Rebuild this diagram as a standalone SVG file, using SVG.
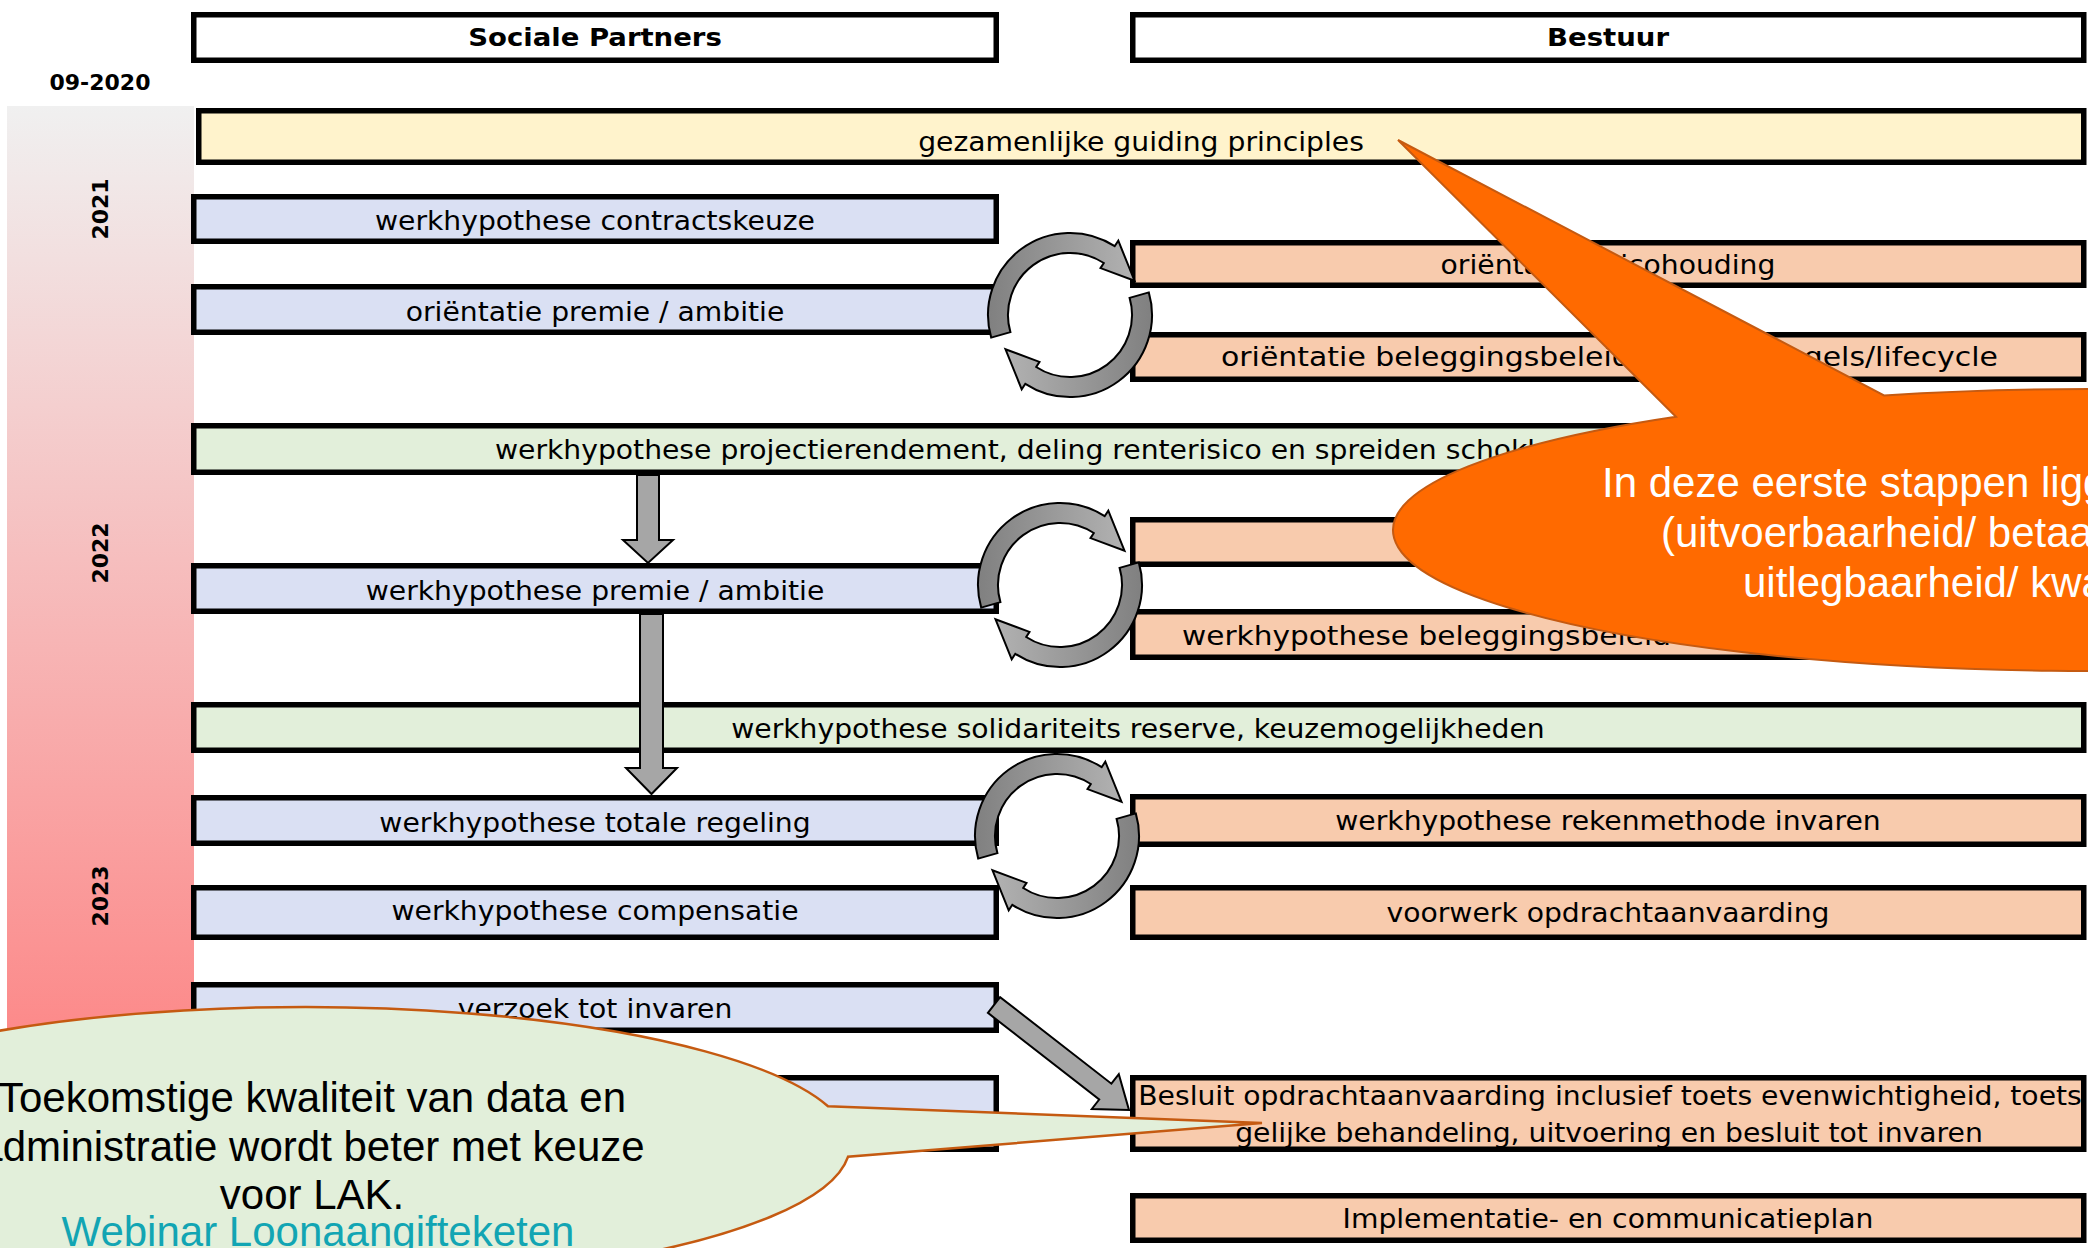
<svg xmlns="http://www.w3.org/2000/svg" xmlns:xlink="http://www.w3.org/1999/xlink" width="2088" height="1248" viewBox="0 0 2088 1248">
<style>
.box{stroke:#000;stroke-width:5.5}
.hd{fill:#fff}
.sp{fill:#dae0f3}
.bs{fill:#f8cbad}
.gr{fill:#e2efda}
.ye{fill:#fff3cc}
.t{font-family:"DejaVu Sans",Verdana,sans-serif;font-size:26.5px;fill:#000;text-anchor:middle;transform-box:fill-box;transform-origin:center;transform:scaleX(1.065)}
.ts{text-anchor:start;transform-origin:left center}
.tl{font-family:"DejaVu Sans",Verdana,sans-serif;font-size:26.5px;fill:#000;text-anchor:start}
.hb{font-family:"DejaVu Sans",Verdana,sans-serif;font-weight:bold;font-size:25.5px;fill:#000;text-anchor:middle;transform-box:fill-box;transform-origin:center;transform:scaleX(1.08)}
.yr{font-family:"DejaVu Sans",Verdana,sans-serif;font-weight:bold;font-size:22px;fill:#000;text-anchor:middle}
.blk{fill:#a6a6a6;stroke:#000;stroke-width:2}
.ct{font-family:"Liberation Sans",Arial,sans-serif;font-size:42px}
</style>
<defs>
<linearGradient id="tl" x1="0" y1="0" x2="0" y2="1">
<stop offset="0" stop-color="#f0f0f0"/>
<stop offset="1" stop-color="#ff7272"/>
</linearGradient>
<linearGradient id="cag" x1="0" y1="0" x2="1" y2="0">
<stop offset="0" stop-color="#808080"/>
<stop offset="1" stop-color="#b2b2b2"/>
</linearGradient>
<path id="ca" d="M-78.8,22.6 A82,82 0 0 1 44.7,-68.8 L48.3,-74.3 L64.5,-34.3 L30.5,-46.9 L33.8,-52 A62,62 0 0 0 -59.6,17.1 Z" fill="url(#cag)" stroke="#000" stroke-width="2"/>
</defs>

<g id="timeline">
<rect x="7" y="106" width="187" height="1142" fill="url(#tl)"/>
<text class="yr" transform="translate(100,209) rotate(-90)" dy="8">2021</text>
<text class="yr" transform="translate(100,553) rotate(-90)" dy="8">2022</text>
<text class="yr" transform="translate(100,896) rotate(-90)" dy="8">2023</text>
</g>
<g id="date-0920"><text class="yr" x="100" y="90" font-size="20">09-2020</text></g>

<g id="hdr-sociale-partners"><rect class="box hd" x="193.75" y="14.75" width="802.5" height="45.5"/><text class="hb" x="595" y="46">Sociale Partners</text></g>
<g id="hdr-bestuur"><rect class="box hd" x="1132.75" y="14.75" width="951" height="45.5"/><text class="hb" x="1608" y="46">Bestuur</text></g>

<g id="guiding"><rect class="box ye" x="198.75" y="110.75" width="1885" height="51.5"/><text class="t" x="1141" y="151" font-size="28px">gezamenlijke guiding principles</text></g>

<g id="sp1"><rect class="box sp" x="193.75" y="196.75" width="802.5" height="44.5"/><text class="t" x="595" y="230">werkhypothese contractskeuze</text></g>
<g id="sp2"><rect class="box sp" x="193.75" y="286.75" width="802.5" height="45.5"/><text class="t" x="595" y="321">oriëntatie premie / ambitie</text></g>
<g id="b1"><rect class="box bs" x="1132.75" y="242.75" width="951" height="42.5"/><text class="t" x="1608" y="274">oriëntatie risicohouding</text></g>
<g id="b2"><rect class="box bs" x="1132.75" y="334.75" width="951" height="44.5"/><text class="tl" x="1221" y="366" textLength="777" lengthAdjust="spacingAndGlyphs">oriëntatie beleggingsbeleid inclusief regels/lifecycle</text></g>

<g id="g1"><rect class="box gr" x="193.75" y="425.75" width="1890" height="46.5"/><text class="t ts" x="495" y="459">werkhypothese projectierendement, deling renterisico en spreiden schokken</text></g>

<g id="b3"><rect class="box bs" x="1132.75" y="519.75" width="951" height="44.5"/></g>
<g id="sp3"><rect class="box sp" x="193.75" y="565.75" width="802.5" height="45.5"/><text class="t" x="595" y="600">werkhypothese premie / ambitie</text></g>
<g id="b4"><rect class="box bs" x="1132.75" y="611.75" width="951" height="45.5"/><text class="tl" x="1182" y="645" textLength="852" lengthAdjust="spacingAndGlyphs">werkhypothese beleggingsbeleid inclusief regels/lifecycle</text></g>

<g id="g2"><rect class="box gr" x="193.75" y="704.75" width="1890" height="45.5"/><text class="t" x="1138" y="738">werkhypothese solidariteits reserve, keuzemogelijkheden</text></g>

<g id="sp4"><rect class="box sp" x="193.75" y="797.75" width="802.5" height="45.5"/><text class="t" x="595" y="832">werkhypothese totale regeling</text></g>
<g id="b5"><rect class="box bs" x="1132.75" y="796.75" width="951" height="47.5"/><text class="t" x="1608" y="830">werkhypothese rekenmethode invaren</text></g>
<g id="sp5"><rect class="box sp" x="193.75" y="887.75" width="802.5" height="49.5"/><text class="t" x="595" y="920">werkhypothese compensatie</text></g>
<g id="b6"><rect class="box bs" x="1132.75" y="887.75" width="951" height="49.5"/><text class="t" x="1608" y="922">voorwerk opdrachtaanvaarding</text></g>
<g id="sp6"><rect class="box sp" x="193.75" y="984.75" width="802.5" height="45.5"/><text class="t" x="595" y="1018">verzoek tot invaren</text></g>
<g id="sp7"><rect class="box sp" x="193.75" y="1077.75" width="802.5" height="71.5"/></g>
<g id="b7"><rect class="box bs" x="1132.75" y="1077.75" width="951" height="71.5"/><text class="t" x="1610" y="1105" font-size="24.7px">Besluit opdrachtaanvaarding inclusief toets evenwichtigheid, toets</text><text class="t" x="1609" y="1142" font-size="24.7px">gelijke behandeling, uitvoering en besluit tot invaren</text></g>
<g id="b8"><rect class="box bs" x="1132.75" y="1195.75" width="951" height="44.5"/><text class="t" x="1608" y="1228">Implementatie- en communicatieplan</text></g>

<g id="connectors">
<polygon class="blk" points="637,475 659,475 659,540 673,540 648,563 623,540 637,540"/>
<polygon class="blk" points="640,614 663,614 663,768 677,768 651.5,794 626,768 640,768"/>
<polygon class="blk" points="987.9,1012.9 1000.1,997.1 1111.4,1083.7 1118.8,1074.2 1129,1110 1091.8,1109 1099.2,1099.5"/>
<g id="cycle1"><use xlink:href="#ca" transform="translate(1070,315)"/><use xlink:href="#ca" transform="translate(1070,315) rotate(180)"/></g>
<g id="cycle2"><use xlink:href="#ca" transform="translate(1060,585)"/><use xlink:href="#ca" transform="translate(1060,585) rotate(180)"/></g>
<g id="cycle3"><use xlink:href="#ca" transform="translate(1057,836)"/><use xlink:href="#ca" transform="translate(1057,836) rotate(180)"/></g>
</g>

<g id="callout-orange">
<path d="M1676,416.7 L1398,140 L1884,395.4 A699,141 0 1 1 1676,416.7 Z" fill="#ff6a00" stroke="#c55a11" stroke-width="2"/>
<text class="ct" fill="#fff" x="1602" y="497">In deze eerste stappen liggen</text>
<text class="ct" fill="#fff" x="1661" y="547">(uitvoerbaarheid/ betaalbaarheid/</text>
<text class="ct" fill="#fff" x="1743" y="597">uitlegbaarheid/ kwaliteit</text>
</g>

<g id="callout-green">
<path d="M828,1106.2 L1262,1123 L848,1156.8 A545,138 0 1 1 828,1106.2 Z" fill="#e2efda" stroke="#c55a11" stroke-width="2.5"/>
<text class="ct" fill="#000" text-anchor="middle" x="312" y="1112">Toekomstige kwaliteit van data en</text>
<text class="ct" fill="#000" text-anchor="middle" x="312" y="1161">administratie wordt beter met keuze</text>
<text class="ct" fill="#000" text-anchor="middle" x="312" y="1209">voor LAK.</text>
<text class="ct" fill="#12a5b3" text-anchor="middle" x="318" y="1246">Webinar Loonaangifteketen</text>
</g>
</svg>
